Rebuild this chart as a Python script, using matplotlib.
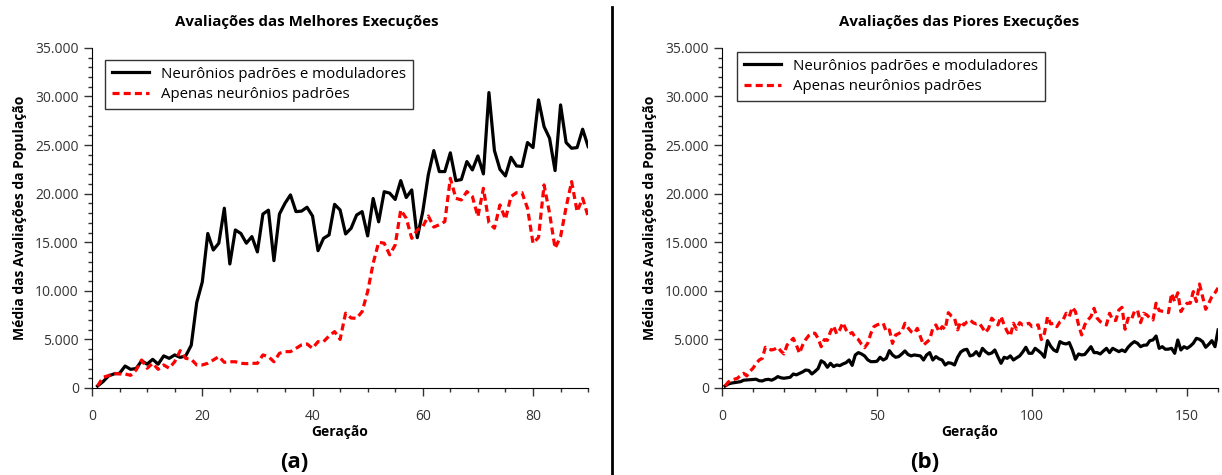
import matplotlib
matplotlib.use("Agg")
import matplotlib.pyplot as plt
from matplotlib.ticker import MultipleLocator, FuncFormatter

plt.rcParams['font.family'] = ['Open Sans', 'DejaVu Sans']

# melhores execucoes (geracoes 1..90)
melhor_mod = [200, 650, 1240, 1450, 1510, 2260, 1920, 2000, 2800, 2450,
              2950, 2450, 3300, 3050, 3400, 3150, 3300, 4400, 8800, 10900,
              15900, 14200, 14900, 18500, 12760, 16260, 15900, 14900, 15580, 14000,
              17900, 18300, 13100, 17900, 19000, 19870, 18150, 18200, 18600, 17700,
              14130, 15400, 15750, 18900, 18320, 15850, 16440, 17800, 18150, 15650,
              19500, 17100, 20200, 20050, 19400, 21340, 19600, 20380, 15470, 18150,
              21930, 24430, 22270, 22270, 24200, 21340, 21450, 23300, 22440, 23880,
              22030, 30400, 24430, 22500, 21820, 23740, 22850, 22800, 25260, 24740,
              29650, 26900, 25700, 22370, 29130, 25260, 24670, 24740, 26630, 24840]
melhor_pad = [200, 1100, 1270, 1510, 1440, 1440, 1300, 1850, 2880, 2030,
              2540, 1920, 2370, 2030, 2710, 3840, 3050, 2950, 2370, 2370,
              2540, 2880, 3230, 2640, 2700, 2700, 2540, 2500, 2540, 2540,
              3400, 3230, 2700, 3570, 3740, 3740, 4080, 4430, 4530, 4080,
              4770, 4770, 5350, 5800, 5000, 7700, 7200, 7170, 7860, 9920,
              12830, 15000, 14900, 13700, 14720, 18320, 17470, 15400, 16260, 16600,
              17700, 16560, 16800, 17120, 21580, 19520, 19350, 20210, 19700, 17640,
              20550, 17000, 16440, 18840, 17360, 19700, 20100, 20100, 18500, 14890,
              15500, 20900, 17980, 14380, 15580, 18600, 21240, 18150, 19520, 17640]

# piores execucoes (geracoes 1..160)
pior_mod = [200, 400, 500, 550, 600, 650, 800, 820, 850, 880,
            900, 750, 720, 850, 890, 800, 950, 1170, 1050, 1000,
            1050, 1100, 1440, 1350, 1500, 1650, 1850, 1800, 1440, 1700,
            2000, 2800, 2600, 2130, 2540, 2200, 2370, 2300, 2470, 2600,
            2880, 2330, 3400, 3640, 3500, 3300, 2900, 2710, 2710, 2750,
            3160, 2880, 3050, 3840, 3400, 3160, 3230, 3500, 3810, 3450,
            3300, 3400, 3350, 3300, 2880, 3400, 3640, 2880, 3230, 3000,
            2880, 2370, 2600, 2540, 2370, 3160, 3700, 3910, 3980, 3300,
            3400, 3740, 3300, 4080, 3740, 3500, 3600, 3910, 3200, 2540,
            3160, 3050, 3300, 2880, 3100, 3300, 3700, 4190, 3570, 3570,
            4080, 3840, 3570, 3160, 4870, 4300, 3910, 3740, 4770, 4600,
            4530, 4670, 3910, 2950, 3500, 3400, 3450, 3840, 4250, 3640,
            3640, 3500, 3800, 4080, 3640, 4080, 3910, 3740, 3910, 3740,
            4200, 4530, 4770, 4600, 4250, 4400, 4420, 4870, 4940, 5350,
            4080, 4250, 3980, 4000, 4080, 3570, 4940, 3910, 4250, 4080,
            4300, 4600, 5110, 5010, 4770, 4190, 4500, 4870, 4250, 5970]
pior_pad = [200, 600, 820, 900, 1000, 1300, 1510, 1240, 1700, 2030,
            2500, 2880, 3050, 4190, 4000, 3910, 4000, 4190, 3800, 3500,
            4420, 4770, 5110, 4420, 3570, 4400, 4980, 5400, 5630, 5630,
            5110, 4250, 4980, 4900, 5800, 6380, 5560, 6000, 6720, 6000,
            5560, 5700, 5200, 4980, 4500, 4150, 4590, 5600, 6310, 6490,
            6600, 6660, 5800, 5980, 4590, 5450, 5600, 5800, 6660, 6200,
            5800, 5630, 6140, 5290, 4420, 4700, 4980, 6140, 6490, 5800,
            6310, 6040, 7750, 7400, 7180, 5980, 6830, 6490, 6800, 7000,
            6720, 6590, 6660, 6200, 5700, 6140, 7180, 6830, 6490, 7350,
            6490, 5800, 5350, 6660, 6040, 6720, 6490, 6550, 6660, 6310,
            6400, 6490, 4980, 5630, 7350, 6590, 6660, 6310, 6800, 7000,
            7690, 7350, 8300, 7860, 6490, 5460, 6500, 7000, 7350, 8200,
            7180, 6830, 6600, 6490, 7690, 7000, 6940, 8030, 8300, 6040,
            7180, 7000, 7860, 8030, 6720, 7690, 7520, 7200, 7000, 8720,
            7970, 7900, 7860, 7750, 9740, 8890, 9800, 7860, 8380, 8720,
            8720, 9920, 8890, 10700, 9400, 8100, 8720, 9400, 9800, 10300]

rotulos = ["Neurônios padrões e moduladores", "Apenas neurônios padrões"]


def milhar(v, pos):
    return f"{int(v):,}".replace(",", ".")


fig = plt.figure(figsize=(12.22, 4.75), dpi=100)
ax1 = fig.add_axes([0.0753, 0.1832, 0.406, 0.716])
ax2 = fig.add_axes([0.5908, 0.1832, 0.406, 0.716])

paineis = [
    (ax1, melhor_mod, melhor_pad, 90, 20, 5, (0.011, 0.987)),
    (ax2, pior_mod, pior_pad, 160, 50, 10, (0.015, 1.01)),
]

for ax, mod, pad, xmax, passo, passo_min, pos_leg in paineis:
    gens = range(1, len(mod) + 1)
    ax.plot(gens, mod, color="black", lw=2.3, label=rotulos[0])
    ax.plot(gens, pad, color="#ff0000", lw=2.3, ls=(0, (2.2, 1.3)), label=rotulos[1])
    ax.set_xlim(0, xmax)
    ax.set_ylim(0, 35000)
    ax.xaxis.set_major_locator(MultipleLocator(passo))
    ax.xaxis.set_minor_locator(MultipleLocator(passo_min))
    ax.yaxis.set_major_locator(MultipleLocator(5000))
    ax.yaxis.set_minor_locator(MultipleLocator(1000))
    ax.yaxis.set_major_formatter(FuncFormatter(milhar))
    ax.spines["top"].set_visible(False)
    ax.spines["right"].set_visible(False)
    ax.tick_params(which="major", length=6, width=1, labelsize=10, colors="#333333", labelcolor="#333333")
    ax.tick_params(axis="x", which="major", pad=9)
    ax.tick_params(which="minor", length=3, width=1, colors="#333333")
    ax.set_xlabel("Geração", fontsize=10, fontweight="bold", labelpad=1)
    ax.set_ylabel("Média das Avaliações da População", fontsize=10, fontweight="bold", labelpad=6)
    leg = ax.legend(loc="upper left", fontsize=10.8, frameon=True, fancybox=False,
                    edgecolor="black", handlelength=2.5, borderpad=0.45, labelspacing=0.35,
                    bbox_to_anchor=pos_leg)
    leg.get_frame().set_linewidth(1)

fig.text(0.251, 0.953, "Avaliações das Melhores Execuções", fontsize=10.8, fontweight="bold",
         ha="center", va="center")
fig.text(0.785, 0.953, "Avaliações das Piores Execuções", fontsize=10.8, fontweight="bold",
         ha="center", va="center")
fig.text(0.241, 0.015, "(a)", fontsize=16, fontweight="bold", ha="center")
fig.text(0.757, 0.015, "(b)", fontsize=16, fontweight="bold", ha="center")
fig.add_artist(plt.Line2D([0.501, 0.501], [0.0, 0.985], color="black", lw=2, transform=fig.transFigure))

fig.savefig("out.png", dpi=100)
